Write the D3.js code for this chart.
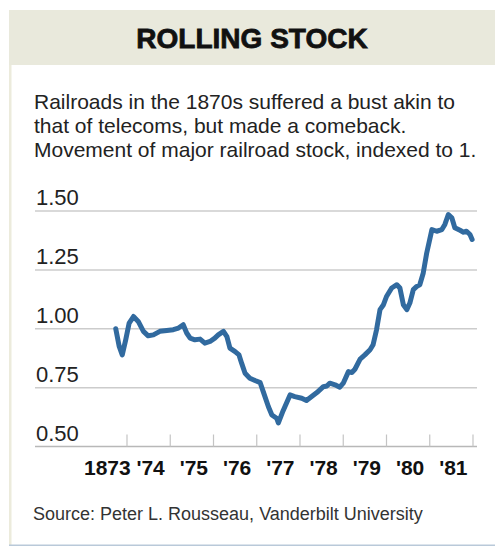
<!DOCTYPE html>
<html>
<head>
<meta charset="utf-8">
<script src="https://cdn.jsdelivr.net/npm/d3@7"></script>
<style>
  body { margin: 0; background: #fff; }
  svg { display: block; }
</style>
</head>
<body>
<div id="chart"></div>
<script>
// chart data (decimal year, index value)
const dates = [1873.74, 1873.82, 1873.89, 1873.97, 1874.05, 1874.15, 1874.26, 1874.38, 1874.49, 1874.61,
  1874.76, 1874.92, 1875.07, 1875.19, 1875.30, 1875.38, 1875.46, 1875.57, 1875.69, 1875.80,
  1875.92, 1876.03, 1876.11, 1876.23, 1876.31, 1876.38, 1876.50, 1876.59, 1876.65, 1876.73,
  1876.84, 1876.96, 1877.08, 1877.15, 1877.27, 1877.35, 1877.46, 1877.50, 1877.61, 1877.77,
  1877.88, 1878.04, 1878.15, 1878.27, 1878.39, 1878.54, 1878.62, 1878.69, 1878.81, 1878.92,
  1879.00, 1879.12, 1879.20, 1879.27, 1879.39, 1879.50, 1879.62, 1879.69, 1879.77, 1879.85,
  1879.93, 1880.00, 1880.12, 1880.24, 1880.31, 1880.39, 1880.47, 1880.54, 1880.62, 1880.70,
  1880.77, 1880.85, 1880.93, 1881.05, 1881.16, 1881.28, 1881.35, 1881.43, 1881.51, 1881.58,
  1881.70, 1881.78, 1881.85, 1881.93, 1881.98];
const values = [1.00, 0.925, 0.889, 0.953, 1.024, 1.052, 1.031, 0.989, 0.970, 0.974,
  0.989, 0.993, 0.996, 1.003, 1.017, 0.982, 0.960, 0.953, 0.956, 0.939,
  0.946, 0.960, 0.974, 0.989, 0.967, 0.918, 0.903, 0.889, 0.854, 0.811,
  0.790, 0.780, 0.771, 0.733, 0.669, 0.634, 0.620, 0.600, 0.652, 0.719,
  0.712, 0.705, 0.695, 0.712, 0.729, 0.754, 0.757, 0.769, 0.762, 0.752,
  0.769, 0.818, 0.814, 0.828, 0.871, 0.889, 0.911, 0.932, 0.996, 1.081,
  1.102, 1.137, 1.173, 1.187, 1.173, 1.102, 1.081, 1.109, 1.166, 1.180,
  1.187, 1.237, 1.322, 1.421, 1.414, 1.421, 1.443, 1.485, 1.471, 1.429,
  1.418, 1.410, 1.414, 1.400, 1.379];

const yTicks = [0.50, 0.75, 1.00, 1.25, 1.50];
const yearStarts = [1873, 1874, 1875, 1876, 1877, 1878, 1879, 1880, 1881];
const yearLabels = ['1873', "'74", "'75", "'76", "'77", "'78", "'79", "'80", "'81"];

const title = 'ROLLING STOCK';
const subtitle = [
  'Railroads in the 1870s suffered a bust akin to',
  'that of telecoms, but made a comeback.',
  'Movement of major railroad stock, indexed to 1.'
];
const source = 'Source: Peter L. Rousseau, Vanderbilt University';

// layout
const width = 495, height = 547;
const gridLeft = 35, gridRight = 477;

const svg = d3.select('#chart').append('svg')
  .attr('width', width)
  .attr('height', height);

// frame
svg.append('rect').attr('x', 9).attr('y', 10).attr('width', width - 9).attr('height', 55)
  .attr('fill', '#e9e9dc');
svg.append('rect').attr('x', 9).attr('y', 65).attr('width', 2.5).attr('height', 480)
  .attr('fill', '#ecebdc');
svg.append('rect').attr('x', 9).attr('y', 544.5).attr('width', width - 9).attr('height', 1.5)
  .attr('fill', '#b9c9d9');

svg.append('text')
  .attr('x', 252).attr('y', 48)
  .attr('text-anchor', 'middle')
  .style('font-family', 'Liberation Sans, Arial, sans-serif')
  .style('font-weight', 'bold')
  .style('font-size', '28px')
  .attr('fill', '#111')
  .attr('stroke', '#111').attr('stroke-width', 0.8)
  .text(title);

svg.selectAll('.sub')
  .data(subtitle)
  .enter()
  .append('text')
  .attr('class', 'sub')
  .attr('x', 34)
  .attr('y', (d, i) => 109 + i * 24)
  .style('font-family', 'Liberation Sans, Arial, sans-serif')
  .style('font-size', '21px')
  .attr('fill', '#222')
  .text(d => d);

// scales
let x = d3.scaleLinear().domain([1873, 1882]).range([83.75, 473]);
let y = d3.scaleLinear().domain([0.5, 1.5]).range([446.5, 211]);

// gridlines
svg.selectAll('.grid')
  .data(yTicks)
  .enter()
  .append('line')
  .attr('x1', gridLeft).attr('x2', gridRight)
  .attr('y1', d => y(d)).attr('y2', d => y(d))
  .attr('stroke', d => d === 0.5 ? '#b8b8b8' : '#cccccc')
  .attr('stroke-width', 1.5);

svg.selectAll('.ylab')
  .data(yTicks)
  .enter()
  .append('text')
  .attr('x', 36)
  .attr('y', d => y(d) - 6)
  .style('font-family', 'Liberation Sans, Arial, sans-serif')
  .style('font-size', '22px')
  .attr('fill', '#222')
  .text(d => d3.format('.2f')(d));

// year ticks on baseline
svg.selectAll('.tick')
  .data(yearStarts.slice(1).concat([1882]))
  .enter()
  .append('line')
  .attr('x1', d => x(d)).attr('x2', d => x(d))
  .attr('y1', y(0.5)).attr('y2', y(0.5) - 12)
  .attr('stroke', '#c4c4c4')
  .attr('stroke-width', 1.2);

svg.selectAll('.xlab')
  .data(yearStarts)
  .enter()
  .append('text')
  .attr('x', d => x(d + 0.5) + 2)
  .attr('y', 475)
  .attr('text-anchor', 'middle')
  .style('font-family', 'Liberation Sans, Arial, sans-serif')
  .style('font-weight', 'bold')
  .style('font-size', '21px')
  .attr('fill', '#111')
  .text((d, i) => yearLabels[i]);

// the line
let points = dates.map((d, i) => [d, values[i]]);
let line = d3.line()
  .x(d => x(d[0]))
  .y(d => y(d[1]));

svg.append('path')
  .datum(points)
  .attr('d', line)
  .attr('fill', 'none')
  .attr('stroke', '#316a9f')
  .attr('stroke-width', 5)
  .attr('stroke-linejoin', 'round')
  .attr('stroke-linecap', 'round');

svg.append('text')
  .attr('x', 33).attr('y', 520)
  .style('font-family', 'Liberation Sans, Arial, sans-serif')
  .style('font-size', '18px')
  .attr('fill', '#333')
  .text(source);
</script>
</body>
</html>
